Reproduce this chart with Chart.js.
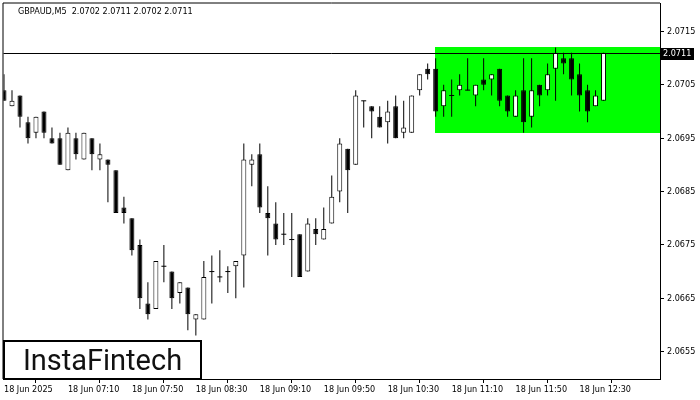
<!DOCTYPE html>
<html>
<head>
<meta charset="utf-8">
<script src="https://cdn.jsdelivr.net/npm/chart.js@4.4.1/dist/chart.umd.min.js"></script>
<style>
html,body{margin:0;padding:0;background:#ffffff;}
canvas{display:block;}
</style>
</head>
<body>
<canvas id="c" width="700" height="400"></canvas>
<script>
// ---- data ----
const symbolTitle = "GBPAUD,M5  2.0702 2.0711 2.0702 2.0711";
const opens = [
  2.0704, 2.0701, 2.0703, 2.0698, 2.0696, 2.0700, 2.0695, 2.0695, 2.0689, 2.0695,
  2.0691, 2.0695, 2.0691, 2.0691, 2.0689, 2.0682, 2.0680, 2.0675, 2.0664, 2.0663,
  2.0671, 2.0670, 2.0666, 2.0667, 2.0661, 2.0661, 2.0670, 2.0669, 2.0670, 2.0671,
  2.0673, 2.0690, 2.0692, 2.0681, 2.0679, 2.0677, 2.0676, 2.0677, 2.0670, 2.0678,
  2.0676, 2.0679, 2.0685, 2.0693, 2.0690, 2.0702, 2.0701, 2.0699, 2.0698, 2.0701,
  2.0696, 2.0696, 2.0704, 2.0708, 2.0708, 2.0701, 2.0703, 2.0704, 2.0704, 2.0703,
  2.0706, 2.0706, 2.0708, 2.0703, 2.0699, 2.0704, 2.0699, 2.0705, 2.0704, 2.0708,
  2.0710, 2.0710, 2.0707, 2.0704, 2.0701, 2.0702
];
const highs = [
  2.0707, 2.0704, 2.0703, 2.0699, 2.0699, 2.0700, 2.0697, 2.0696, 2.0697, 2.0696,
  2.0696, 2.0695, 2.0694, 2.0691, 2.0689, 2.0684, 2.0680, 2.0676, 2.0668, 2.0672,
  2.0675, 2.0670, 2.0668, 2.0667, 2.0662, 2.0672, 2.0673, 2.0674, 2.0671, 2.0672,
  2.0694, 2.0692, 2.0694, 2.0686, 2.0683, 2.0681, 2.0681, 2.0677, 2.0680, 2.0680,
  2.0682, 2.0688, 2.0695, 2.0693, 2.0704, 2.0702, 2.0701, 2.0701, 2.0702, 2.0703,
  2.0702, 2.0703, 2.0707, 2.0709, 2.0710, 2.0705, 2.0706, 2.0707, 2.0710, 2.0705,
  2.0710, 2.0707, 2.0708, 2.0703, 2.0704, 2.0710, 2.0710, 2.0705, 2.0709, 2.0712,
  2.0711, 2.0711, 2.0709, 2.0705, 2.0704, 2.0711
];
const lows = [
  2.0702, 2.0701, 2.0697, 2.0694, 2.0695, 2.0695, 2.0694, 2.0690, 2.0689, 2.0691,
  2.0691, 2.0689, 2.0689, 2.0683, 2.0681, 2.0679, 2.0673, 2.0663, 2.0661, 2.0663,
  2.0668, 2.0663, 2.0664, 2.0659, 2.0658, 2.0661, 2.0664, 2.0668, 2.0666, 2.0665,
  2.0667, 2.0686, 2.0681, 2.0673, 2.0675, 2.0675, 2.0669, 2.0669, 2.0670, 2.0675,
  2.0676, 2.0679, 2.0683, 2.0681, 2.0690, 2.0697, 2.0695, 2.0697, 2.0694, 2.0695,
  2.0695, 2.0696, 2.0703, 2.0706, 2.0699, 2.0699, 2.0699, 2.0703, 2.0704, 2.0701,
  2.0704, 2.0703, 2.0701, 2.0699, 2.0699, 2.0696, 2.0697, 2.0701, 2.0703, 2.0702,
  2.0707, 2.0703, 2.0700, 2.0698, 2.0701, 2.0702
];
const closes = [
  2.0702, 2.0702, 2.0699, 2.0695, 2.0699, 2.0696, 2.0694, 2.0690, 2.0696, 2.0692,
  2.0696, 2.0692, 2.0692, 2.0690, 2.0681, 2.0681, 2.0674, 2.0665, 2.0662, 2.0672,
  2.0671, 2.0665, 2.0668, 2.0662, 2.0662, 2.0669, 2.0670, 2.0669, 2.0670, 2.0672,
  2.0691, 2.0691, 2.0682, 2.0680, 2.0676, 2.0677, 2.0676, 2.0669, 2.0679, 2.0677,
  2.0678, 2.0684, 2.0694, 2.0689, 2.0703, 2.0702, 2.0700, 2.0697, 2.0700, 2.0695,
  2.0697, 2.0703, 2.0707, 2.0707, 2.0700, 2.0704, 2.0703, 2.0705, 2.0704, 2.0705,
  2.0705, 2.0707, 2.0702, 2.0700, 2.0703, 2.0698, 2.0704, 2.0703, 2.0707, 2.0711,
  2.0709, 2.0706, 2.0703, 2.0700, 2.0703, 2.0711
];
const xTickIndex = [0, 8, 16, 24, 32, 40, 48, 56, 64, 72];
const xTickLabels = ["18 Jun 2025", "18 Jun 07:10", "18 Jun 07:50", "18 Jun 08:30", "18 Jun 09:10",
                     "18 Jun 09:50", "18 Jun 10:30", "18 Jun 11:10", "18 Jun 11:50", "18 Jun 12:30"];
const yTickValues = [2.0655, 2.0665, 2.0675, 2.0685, 2.0695, 2.0705, 2.0715];
const bidPrice = 2.0711;
const patternRange = [2.0696, 2.0712];
const patternStartIndex = 54;
const logoText = "InstaFintech";

// ---- styles ----
const FONT = '"DejaVu Sans Condensed", "Liberation Sans", sans-serif';
const idx = opens.map((_, i) => i);
const wickData = idx.map(i => ({x: i, y: [lows[i], highs[i]]}));
const bodyData = idx.filter(i => opens[i] !== closes[i])
                    .map(i => ({x: i, y: [Math.min(opens[i], closes[i]), Math.max(opens[i], closes[i])]}));
const dojiData = idx.filter(i => opens[i] === closes[i]).map(i => ({x: i, y: closes[i]}));

const overlay = {
  id: 'overlay',
  beforeDatasetsDraw(chart) {
    const {ctx, chartArea, scales} = chart;
    const x0 = Math.round(scales.x.getPixelForValue(patternStartIndex) - 0.5);
    const yTop = scales.y.getPixelForValue(patternRange[1]);
    const yBot = scales.y.getPixelForValue(patternRange[0]);
    ctx.save();
    ctx.fillStyle = '#00ff00';
    ctx.fillRect(x0, Math.round(yTop), chartArea.right - x0, Math.round(yBot) - Math.round(yTop));
    ctx.restore();
  },
  afterDatasetsDraw(chart) {
    const {ctx, chartArea, scales} = chart;
    ctx.save();
    // bid line
    const yb = Math.round(scales.y.getPixelForValue(bidPrice)) + 0.5;
    ctx.strokeStyle = '#000';
    ctx.lineWidth = 1;
    ctx.beginPath();
    ctx.moveTo(chartArea.left, yb);
    ctx.lineTo(chartArea.right, yb);
    ctx.stroke();
    // frame (top and left)
    ctx.beginPath();
    ctx.moveTo(chartArea.left - 0.5, chartArea.bottom);
    ctx.lineTo(chartArea.left - 0.5, chartArea.top - 0.5);
    ctx.lineTo(chartArea.right, chartArea.top - 0.5);
    ctx.stroke();
    ctx.restore();
  },
  afterDraw(chart) {
    const {ctx, chartArea, scales} = chart;
    ctx.save();
    // header
    ctx.fillStyle = '#000';
    ctx.font = '9px ' + FONT;
    ctx.textBaseline = 'alphabetic';
    ctx.textAlign = 'left';
    ctx.fillText(symbolTitle, 18, 14);
    // price label
    const yb = Math.round(scales.y.getPixelForValue(bidPrice));
    ctx.fillStyle = '#000';
    ctx.fillRect(chartArea.right + 1, yb - 5, 33, 12);
    ctx.fillStyle = '#fff';
    ctx.textBaseline = 'middle';
    ctx.fillText(bidPrice.toFixed(4), chartArea.right + 3, yb + 1);
    // logo
    ctx.fillStyle = '#fff';
    ctx.fillRect(3, 340, 199, 39);
    ctx.strokeStyle = '#000';
    ctx.lineWidth = 2;
    ctx.strokeRect(4, 341, 197, 38);
    ctx.fillStyle = '#111';
    ctx.font = '29px Roboto, "Open Sans", sans-serif';
    ctx.textAlign = 'center';
    ctx.textBaseline = 'alphabetic';
    ctx.fillText(logoText, 102.5, 370);
    ctx.restore();
  }
};

new Chart(document.getElementById('c'), {
  type: 'bar',
  data: {
    datasets: [
      {
        type: 'line', data: dojiData, showLine: false, order: 1,
        pointStyle: 'line', pointRadius: 2.5, pointHoverRadius: 2.5,
        pointBorderWidth: 1, borderColor: '#000', backgroundColor: '#000'
      },
      {
        data: bodyData, order: 2, grouped: false, barThickness: 5,
        borderWidth: 1, borderColor: '#000', borderSkipped: false, inflateAmount: 0,
        backgroundColor: ctx => {
          const i = ctx.raw ? ctx.raw.x : 0;
          return closes[i] > opens[i] ? '#ffffff' : '#000000';
        }
      },
      {
        data: wickData, order: 3, grouped: false, barThickness: 1,
        borderWidth: 0, backgroundColor: '#000', inflateAmount: 0
      }
    ]
  },
  options: {
    responsive: false,
    animation: false,
    devicePixelRatio: 1,
    events: [],
    layout: {padding: {left: 3, top: 3, right: 0, bottom: 0}},
    plugins: {legend: {display: false}, tooltip: {enabled: false}},
    scales: {
      x: {
        type: 'linear', min: -0.0625, max: 82.0625, offset: false,
        afterBuildTicks: s => { s.ticks = xTickIndex.map(v => ({value: v})); },
        afterFit: s => { s.height = 21; s.paddingLeft = 0; s.paddingRight = 0; s.paddingTop = 0; s.paddingBottom = 0; },
        ticks: {
          autoSkip: false, maxRotation: 0, minRotation: 0, align: 'start', padding: 1,
          color: '#000', font: {family: FONT, size: 9},
          callback: v => { const k = xTickIndex.indexOf(v); return k >= 0 ? xTickLabels[k] : ''; }
        },
        grid: {drawOnChartArea: false, drawTicks: true, tickLength: 4, color: '#000', lineWidth: 1},
        border: {display: true, color: '#000', width: 1}
      },
      y: {
        type: 'linear', position: 'right', min: 2.0649868, max: 2.072024,
        afterBuildTicks: s => { s.ticks = yTickValues.map(v => ({value: v})); },
        afterFit: s => { s.width = 40; s.paddingLeft = 0; s.paddingRight = 0; s.paddingTop = 0; s.paddingBottom = 0; },
        ticks: {
          padding: 3, color: '#000', font: {family: FONT, size: 9},
          callback: v => Number(v).toFixed(4)
        },
        grid: {drawOnChartArea: false, drawTicks: true, tickLength: 4, color: '#000', lineWidth: 1},
        border: {display: true, color: '#000', width: 1}
      }
    }
  },
  plugins: [overlay]
});
</script>
</body>
</html>
